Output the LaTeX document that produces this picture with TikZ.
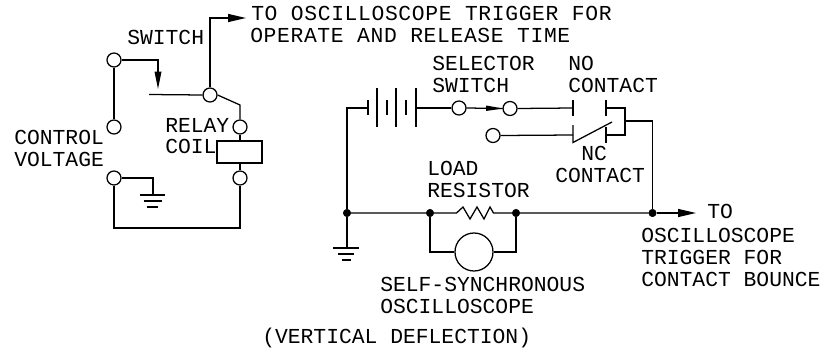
\documentclass[tikz,border=0pt]{standalone}
\usepackage{fontspec}
\usetikzlibrary{arrows.meta}
\newfontfamily\labfont{Liberation Mono}
\newfontfamily\labwidefont[LetterSpace=3]{Liberation Mono}
\tikzset{
  wire/.style={line width=0.95pt,line join=miter},
  term/.style={draw,circle,line width=0.95pt,inner sep=0pt,minimum size=10.5pt},
  jdot/.style={draw,fill=black,circle,inner sep=0pt,minimum size=5.6pt},
  lab/.style={anchor=base west,inner sep=0pt,font=\fontsize{16pt}{18pt}\labfont},
  labwide/.style={anchor=base west,inner sep=0pt,font=\fontsize{16pt}{18pt}\labwidefont},
  tip/.style={-{Triangle[length=13.5pt,width=6pt]}},
  tipv/.style={-{Triangle[length=13pt,width=5pt]}},
}
\begin{document}
\begin{tikzpicture}[x=0.75pt,y=-0.75pt]
\useasboundingbox (0,0) rectangle (827,353);
% texts
\node[labwide] (t1) at (251,21) {TO OSCILLOSCOPE TRIGGER FOR};
\node[labwide] (t2) at (250,43) {OPERATE AND RELEASE TIME};
\node[lab] (t3) at (127,45) {SWITCH};
\node[lab] (t4) at (14,144) {CONTROL};
\node[lab] (t5) at (14,166) {VOLTAGE};
\node[lab] (t6) at (165,132) {RELAY};
\node[lab] (t7) at (165,153) {COIL};
\node[lab] (t8) at (432,70) {SELECTOR};
\node[lab] (t9) at (432,92) {SWITCH};
\node[lab] (t10) at (568,70) {NO};
\node[lab] (t11) at (568,92) {CONTACT};
\node[lab] (t12) at (581,160) {NC};
\node[lab] (t13) at (555,182) {CONTACT};
\node[lab] (t14) at (427,175) {LOAD};
\node[lab] (t15) at (427,197) {RESISTOR};
\node[lab] (t16) at (380,291) {SELF-SYNCHRONOUS};
\node[lab] (t17) at (380,313) {OSCILLOSCOPE};
\node[lab] (t18) at (262,343) {(VERTICAL DEFLECTION)};
\node[lab] (t19) at (707,218) {TO};
\node[lab] (t20) at (641,242) {OSCILLOSCOPE};
\node[lab] (t21) at (641,264) {TRIGGER FOR};
\node[lab] (t22) at (641,286) {CONTACT BOUNCE};
% left circuit
\node[term] (a) at (114,60) {};
\node[term] (b) at (114,127) {};
\node[term] (c) at (114,178) {};
\node[term] (d) at (210,95) {};
\node[term] (e) at (240,127) {};
\node[term] (f) at (240,178) {};
\node[draw,line width=0.95pt,minimum width=33.75pt,minimum height=16.5pt,inner sep=0pt] (coil) at (239.5,152) {};
\coordinate (trigend) at (246,18);
\coordinate (armend) at (149,94.5);
\coordinate (armtip) at (158,89);
\coordinate (gl) at (153,195);
\draw[wire] (a) -- (b);
\draw[wire,tipv] (a.east) -| (armtip);
\draw[wire] (armend) -- (d.west);
\draw[wire,tip] (d.north) |- (trigend);
\draw[wire] (d.east) -- (240,105) -- (e.north);
\draw[wire] (e.south) -- (e.south |- coil.north);
\draw[wire] (f.north |- coil.south) -- (f.north);
\draw[wire] (c.east) -| (gl);
\draw[wire] (c.south) |- (240,228) -- (f.south);
\draw[wire] (140,195) -- (165,195) (143.5,201) -- (161.5,201) (147,207) -- (158,207);
% right circuit, top branch
\node[term] (g) at (459,108) {};
\node[term] (h) at (510,108.5) {};
\node[term] (i) at (493,135.5) {};
\node[jdot] (j1) at (347,213) {};
\node[jdot] (j2) at (430,213) {};
\node[jdot] (j3) at (516,213) {};
\node[jdot] (j4) at (652.5,213) {};
\node[draw,circle,line width=0.95pt,inner sep=0pt,minimum size=28.5pt] (scope) at (474,252) {};
\coordinate (batl) at (368,108);
\coordinate (batr) at (416,108);
\draw[wire] (j1) |- (batl);
\draw[wire] (368,100) -- (368,115) (377,88) -- (377,127) (387,100) -- (387,115)
  (396,88) -- (396,127) (406,100) -- (406,115) (416,88) -- (416,127);
\draw[wire] (batr) -- (g.west);
\draw[wire] (g.east) -- (h.west);
\fill (486,105.5) -- (503,108.5) -- (486,111) -- cycle;
\coordinate (nol) at (573,108);
\coordinate (nor) at (606,108);
\coordinate (ncl) at (573,135);
\coordinate (ncr) at (606,135);
\coordinate (bus) at (625,121);
\draw[wire] (h.east) -- (nol);
\draw[wire] (573,100) -- (573,116) (606,100) -- (606,116);
\draw[wire] (nor) -- (625,108) -- (625,135) -- (ncr);
\draw[wire] (i.east) -- (ncl);
\draw[wire] (573,125) -- (573,142.5) -- (612,122);
\draw[wire] (606,127) -- (606,143);
\draw[wire] (bus) -| (j4);
% bottom line
\coordinate (rl) at (453,213);
\coordinate (rr) at (493,213);
\coordinate (outend) at (696,213);
\draw[wire] (j1) -- (j2) -- (rl) -- (456.5,213) -- (463,207) -- (470,219) -- (477,207) -- (484,219) -- (490,207) -- (493.5,213) -- (j3) -- (j4);
\draw[wire,tip] (j4) -- (outend);
\draw[wire] (j2) |- (scope.west);
\draw[wire] (j3) |- (scope.east);
\coordinate (gr) at (347,248);
\draw[wire] (j1) -- (gr);
\draw[wire] (333,248) -- (359,248) (338,254) -- (354,254) (342,260) -- (351,260);
\end{tikzpicture}
\end{document}
